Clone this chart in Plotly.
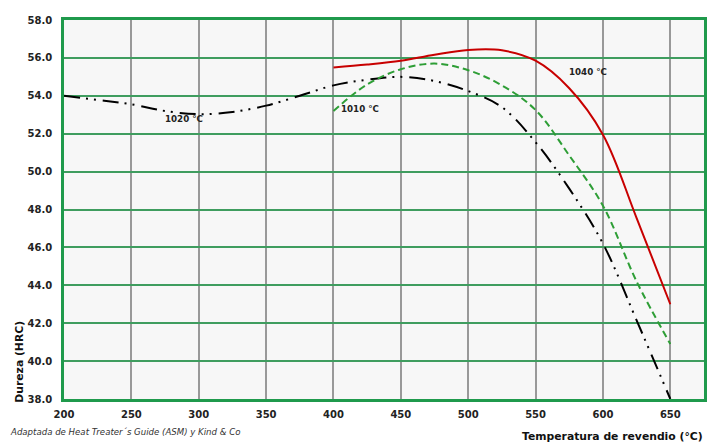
import plotly.graph_objects as go

# ---- data ----
temp_1020 = [200, 225, 250, 275, 300, 325, 350, 375, 400, 425, 450, 475, 500, 525, 550, 575, 600, 625, 650]
hrc_1020 = [54.0, 53.78, 53.55, 53.2, 53.03, 53.15, 53.48, 54.0, 54.55, 54.85, 55.0, 54.78, 54.25, 53.4, 51.55, 49.1, 46.2, 42.15, 38.0]

temp_1010 = [400, 425, 450, 475, 500, 525, 550, 575, 600, 625, 650]
hrc_1010 = [53.2, 54.6, 55.4, 55.7, 55.35, 54.55, 53.25, 50.85, 48.2, 44.2, 40.9]

temp_1040 = [400, 425, 450, 475, 500, 525, 550, 575, 600, 625, 650]
hrc_1040 = [55.5, 55.65, 55.85, 56.17, 56.42, 56.4, 55.85, 54.4, 51.95, 47.55, 43.0]

series_names = ["1020 °C", "1010 °C", "1040 °C"]
label_x = [289, 420, 589]
label_y = [52.77, 53.3, 55.24]

x_ticks = [200, 250, 300, 350, 400, 450, 500, 550, 600, 650]
y_ticks = [38, 40, 42, 44, 46, 48, 50, 52, 54, 56, 58]
y_tick_text = ["%.1f" % v for v in y_ticks]

x_title = "Temperatura de revendio (°C)"
y_title = "Dureza (HRC)"
source_note = "Adaptada de Heat Treater´s Guide (ASM) y Kind & Co"

FONT = "DejaVu Sans"
GREEN_BORDER = "#1f9a4c"
GREEN_GRID = "#3f9d5f"

fig = go.Figure()
fig.add_trace(go.Scatter(x=temp_1020, y=hrc_1020, mode="lines", name=series_names[0],
                         line=dict(color="#000000", width=2, shape="spline", smoothing=1.0,
                                   dash="16px,6px,2px,6px,2px,7px")))
fig.add_trace(go.Scatter(x=temp_1010, y=hrc_1010, mode="lines", name=series_names[1],
                         line=dict(color="#2e9e36", width=2, shape="spline", smoothing=1.0,
                                   dash="7px,4px")))
fig.add_trace(go.Scatter(x=temp_1040, y=hrc_1040, mode="lines", name=series_names[2],
                         line=dict(color="#c80000", width=2, shape="spline", smoothing=1.0)))

for name, lx, ly in zip(series_names, label_x, label_y):
    fig.add_annotation(x=lx, y=ly, xref="x", yref="y", text="<b>%s</b>" % name, showarrow=False,
                       font=dict(family=FONT, size=8.7, color="#222222"),
                       xanchor="center", yanchor="middle")

fig.add_annotation(x=-0.069, y=0.098, xref="paper", yref="paper", text="<b>%s</b>" % y_title,
                   showarrow=False, textangle=-90, font=dict(family=FONT, size=10.8, color="#111111"),
                   xanchor="center", yanchor="middle")
fig.add_annotation(x=1.002, y=-0.099, xref="paper", yref="paper", text="<b>%s</b>" % x_title,
                   showarrow=False, font=dict(family=FONT, size=10.8, color="#111111"),
                   xanchor="right", yanchor="middle")
fig.add_annotation(x=-0.0875, y=-0.088, xref="paper", yref="paper", text="<i>%s</i>" % source_note,
                   showarrow=False, font=dict(family=FONT, size=8.6, color="#333333"),
                   xanchor="left", yanchor="middle")

# the page body adds an 8px offset, so the figure is sized to fit the window
fig.update_layout(
    width=709, height=435,
    margin=dict(l=56, r=13, t=6, b=44),
    paper_bgcolor="#ffffff", plot_bgcolor="#f7f7f7",
    showlegend=False,
    font=dict(family=FONT, color="#222222"),
)
fig.update_xaxes(range=[200, 675], tickvals=x_ticks, ticktext=["<b>%d</b>" % v for v in x_ticks],
                 showgrid=True, gridcolor="#999999", gridwidth=1.5,
                 showline=True, mirror=True, linecolor=GREEN_BORDER, linewidth=2.5,
                 ticks="outside", ticklen=4, tickcolor="rgba(0,0,0,0)",
                 tickfont=dict(family=FONT, size=10, color="#222222"), zeroline=False)
fig.update_yaxes(range=[38, 58], tickvals=y_ticks, ticktext=["<b>%s</b>" % t for t in y_tick_text],
                 showgrid=True, gridcolor=GREEN_GRID, gridwidth=2,
                 showline=True, mirror=True, linecolor=GREEN_BORDER, linewidth=2.5,
                 ticks="outside", ticklen=7, tickcolor="rgba(0,0,0,0)",
                 tickfont=dict(family=FONT, size=10, color="#222222"), zeroline=False)

fig.write_html("out.html")
